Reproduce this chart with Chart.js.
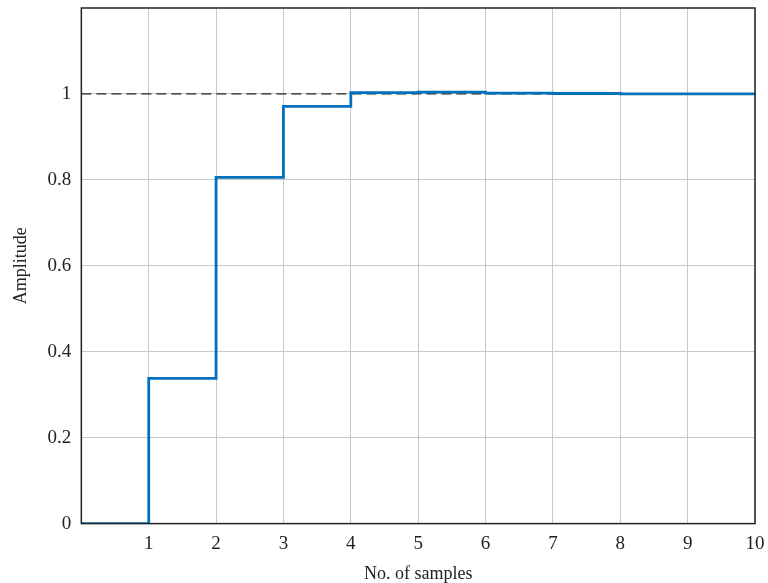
<!DOCTYPE html>
<html>
<head>
<meta charset="utf-8">
<script src="https://cdn.jsdelivr.net/npm/chart.js@4"></script>
<style>
    html, body { margin: 0; padding: 0; background: #fff; }
    #wrap { width: 768px; height: 583px; }
</style>
</head>
<body>
<div id="wrap"><canvas id="stepChart"></canvas></div>
<script>
// dữ liệu
var samples = [0, 1, 2, 3, 4, 5, 6, 7, 8, 9, 10];
var amplitude = [0, 0.338, 0.806, 0.971, 1.003, 1.004, 1.002, 1.001, 1.0, 1.0, 1.0];
var refLevel = 1;
var xTicks = [1, 2, 3, 4, 5, 6, 7, 8, 9, 10];
var yTicks = [0, 0.2, 0.4, 0.6, 0.8, 1];

var stepPoints = samples.map(function (s, i) { return { x: s, y: amplitude[i] }; });
var refPoints = [{ x: samples[0], y: refLevel }, { x: samples[samples.length - 1], y: refLevel }];

// khung đen quanh vùng vẽ
var framePlugin = {
    id: 'frame',
    afterDatasetsDraw: function (chart) {
        var a = chart.chartArea, ctx = chart.ctx;
        ctx.save();
        ctx.strokeStyle = '#222';
        ctx.lineWidth = 1.5;
        ctx.strokeRect(a.left, a.top, a.right - a.left, a.bottom - a.top);
        ctx.restore();
    }
};

var fontFace = "'Liberation Serif', 'DejaVu Serif', serif";

new Chart(document.getElementById('stepChart').getContext('2d'), {
    type: 'line',
    data: {
        datasets: [
            {
                data: stepPoints,
                borderColor: 'rgb(0, 114, 189)',
                borderWidth: 2.8,
                stepped: 'before',
                pointRadius: 0,
                fill: false
            },
            {
                data: refPoints,
                borderColor: '#222',
                borderWidth: 1.3,
                borderDash: [10, 5],
                pointRadius: 0,
                fill: false
            }
        ]
    },
    options: {
        responsive: true,
        maintainAspectRatio: false,
        animation: false,
        layout: { padding: { top: 8, right: 13, left: 10, bottom: 0 } },
        plugins: {
            legend: { display: false },
            tooltip: { enabled: false }
        },
        scales: {
            x: {
                type: 'linear',
                min: 0,
                max: 10,
                afterBuildTicks: function (axis) {
                    axis.ticks = xTicks.map(function (v) { return { value: v }; });
                },
                afterFit: function (axis) {
                    axis.paddingRight = 0;
                    axis.paddingLeft = 0;
                    axis.height = axis.height - 3;
                },
                grid: { color: '#c8c8c8', lineWidth: 1, drawTicks: false },
                border: { display: false },
                ticks: {
                    color: '#222',
                    padding: 9,
                    maxRotation: 0,
                    font: { family: fontFace, size: 19 },
                    callback: function (v) { return String(v); }
                },
                title: {
                    display: true,
                    text: 'No. of samples',
                    color: '#222',
                    padding: { top: 2, bottom: -2 },
                    font: { family: fontFace, size: 18 }
                }
            },
            y: {
                type: 'linear',
                min: 0,
                max: 1.2,
                afterBuildTicks: function (axis) {
                    axis.ticks = yTicks.map(function (v) { return { value: v }; });
                },
                afterFit: function (axis) { axis.paddingTop = 0; axis.paddingBottom = 0; },
                grid: { color: '#c8c8c8', lineWidth: 1, drawTicks: false },
                border: { display: false },
                ticks: {
                    color: '#222',
                    padding: 10,
                    font: { family: fontFace, size: 19 },
                    callback: function (v) { return String(v); }
                },
                title: {
                    display: true,
                    text: 'Amplitude',
                    color: '#222',
                    padding: { top: 0, bottom: 6 },
                    font: { family: fontFace, size: 18 }
                }
            }
        }
    },
    plugins: [framePlugin]
});
</script>
</body>
</html>
